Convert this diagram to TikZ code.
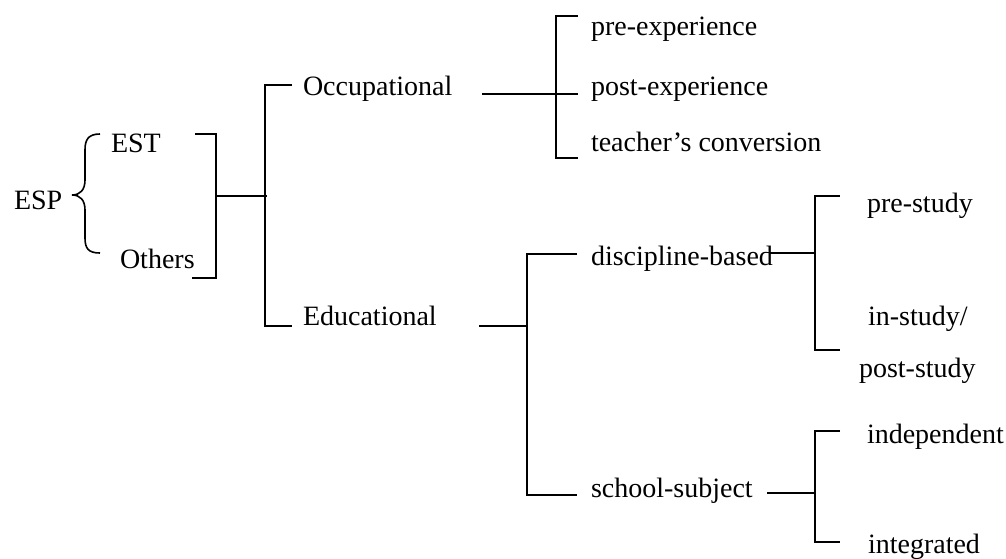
\documentclass[tikz,border=0pt]{standalone}
\usepackage{fontspec}
\setmainfont{Liberation Serif}
\begin{document}
\begin{tikzpicture}
        [x=0.5pt, y=-0.5pt, line width=1pt,
         lbl/.style={anchor=base west, inner sep=0pt, font=\fontsize{14}{17}\selectfont}]

        \useasboundingbox (0,0) rectangle (1006,558);

        \node[lbl] (esp) at (13,209) {ESP};
        \node[lbl] (est) at (110,152) {EST};
        \node[lbl] (others) at (119,268) {Others};

        \node[lbl] (occ) at (302,95) {Occupational};
        \node[lbl] (edu) at (302,325) {Educational};

        \foreach \t/\b [count=\i] in {pre-experience/35, post-experience/95, teacher’s conversion/151}
        \node[lbl] (occ-\i) at (590,\b) {\t};

        \node[lbl] (disc) at (590,265) {discipline-based};
        \node[lbl] (school) at (590,497) {school-subject};

        \node[lbl] (disc-1) at (866,212) {pre-study};
        \node[lbl] (disc-2) at (867,325) {in-study/};
        \node[lbl] (disc-3) at (858,377) {post-study};

        \node[lbl] (school-1) at (866,443) {independent};
        \node[lbl] (school-2) at (867,553) {integrated};

        % brace
        \coordinate (brace-tip) at (72,195);
        \draw[line width=0.8pt] (100,134) .. controls (88,134) and (85,140) .. (85,150) -- (85,180)
            .. controls (85,190) and (80,195) .. (brace-tip)
            .. controls (80,195) and (85,200) .. (85,210) -- (85,238)
            .. controls (85,248) and (88,253) .. (100,253);

        % brackets
        \coordinate (est-join) at (216,196);
        \draw (195,134) -- (216,134) -- (216,278) -- (192,278);
        \draw (est-join) -- (267,196);

        \coordinate (type-join) at (265,196);
        \draw (292,85) -- (265,85) -- (265,326) -- (292,326);

        \coordinate (occ-join) at (556,94);
        \draw (482,94) -- (occ-join) -- (578,94);
        \draw (578,16) -- (556,16) -- (556,158) -- (578,158);

        \coordinate (edu-join) at (527,326);
        \draw (479,326) -- (edu-join);
        \draw (577,254) -- (527,254) -- (527,495) -- (577,495);

        \coordinate (disc-join) at (815,253);
        \draw (770,253) -- (disc-join);
        \draw (840,196) -- (815,196) -- (815,350) -- (840,350);

        \coordinate (school-join) at (815,493);
        \draw (767,493) -- (school-join);
        \draw (840,431) -- (815,431) -- (815,542) -- (840,542);

    \end{tikzpicture}
\end{document}
